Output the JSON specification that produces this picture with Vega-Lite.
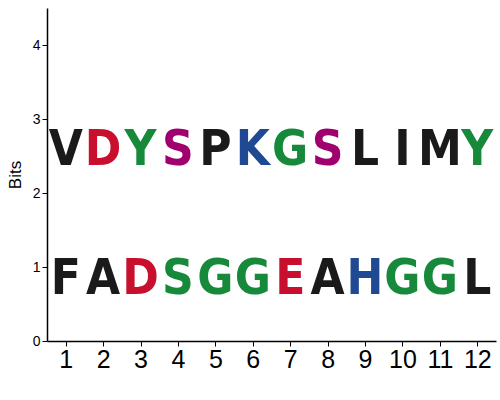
{
  "$schema": "https://vega.github.io/schema/vega-lite/v6.json",
  "width": 449,
  "height": 333,
  "padding": {"left": 6, "top": 8, "right": 6, "bottom": 5},
  "background": "white",
  "data": {
    "values": [
      {"position": 1, "residue": "V", "group": "hydrophobic", "mid": 2.625},
      {"position": 1, "residue": "F", "group": "hydrophobic", "mid": 0.875},
      {"position": 2, "residue": "D", "group": "acidic", "mid": 2.625},
      {"position": 2, "residue": "A", "group": "hydrophobic", "mid": 0.875},
      {"position": 3, "residue": "Y", "group": "polar", "mid": 2.625},
      {"position": 3, "residue": "D", "group": "acidic", "mid": 0.875},
      {"position": 4, "residue": "S", "group": "neutral", "mid": 2.625},
      {"position": 4, "residue": "S", "group": "polar", "mid": 0.875},
      {"position": 5, "residue": "P", "group": "hydrophobic", "mid": 2.625},
      {"position": 5, "residue": "G", "group": "polar", "mid": 0.875},
      {"position": 6, "residue": "K", "group": "basic", "mid": 2.625},
      {"position": 6, "residue": "G", "group": "polar", "mid": 0.875},
      {"position": 7, "residue": "G", "group": "polar", "mid": 2.625},
      {"position": 7, "residue": "E", "group": "acidic", "mid": 0.875},
      {"position": 8, "residue": "S", "group": "neutral", "mid": 2.625},
      {"position": 8, "residue": "A", "group": "hydrophobic", "mid": 0.875},
      {"position": 9, "residue": "L", "group": "hydrophobic", "mid": 2.625},
      {"position": 9, "residue": "H", "group": "basic", "mid": 0.875},
      {"position": 10, "residue": "I", "group": "hydrophobic", "mid": 2.625},
      {"position": 10, "residue": "G", "group": "polar", "mid": 0.875},
      {"position": 11, "residue": "M", "group": "hydrophobic", "mid": 2.625},
      {"position": 11, "residue": "G", "group": "polar", "mid": 0.875},
      {"position": 12, "residue": "Y", "group": "polar", "mid": 2.625},
      {"position": 12, "residue": "L", "group": "hydrophobic", "mid": 0.875}
    ]
  },
  "mark": {
    "type": "text",
    "font": "DejaVu Sans Condensed, Roboto Condensed, Liberation Sans Narrow, Liberation Sans, sans-serif",
    "fontWeight": "bold",
    "fontSize": 49,
    "baseline": "middle",
    "align": "center",
    "dy": 3
  },
  "encoding": {
    "x": {
      "field": "position",
      "type": "quantitative",
      "scale": {"domain": [0.5, 12.5], "nice": false, "zero": false},
      "axis": {
        "values": [1, 2, 3, 4, 5, 6, 7, 8, 9, 10, 11, 12],
        "title": null,
        "grid": false,
        "labelFontSize": 25,
        "labelFont": "Liberation Sans",
        "labelColor": "black",
        "tickColor": "black",
        "domainColor": "black",
        "domainWidth": 1.5,
        "tickSize": 5,
        "labelPadding": 1
      }
    },
    "y": {
      "field": "mid",
      "type": "quantitative",
      "scale": {"domain": [0, 4.5], "nice": false},
      "axis": {
        "values": [0, 1, 2, 3, 4],
        "title": "Bits",
        "titleFont": "Liberation Sans",
        "titleFontWeight": "normal",
        "titleFontSize": 17,
        "titleColor": "black",
        "titlePadding": 8,
        "grid": false,
        "labelFontSize": 14,
        "labelFont": "Liberation Sans",
        "labelColor": "black",
        "tickColor": "black",
        "domainColor": "black",
        "domainWidth": 1.5,
        "tickSize": 5
      }
    },
    "text": {"field": "residue"},
    "color": {
      "field": "group",
      "type": "nominal",
      "scale": {
        "domain": ["hydrophobic", "acidic", "polar", "neutral", "basic"],
        "range": ["#1a1a1a", "#c8102e", "#17893a", "#a0006e", "#1f4a93"]
      },
      "legend": null
    }
  },
  "config": {"view": {"stroke": null}}
}
